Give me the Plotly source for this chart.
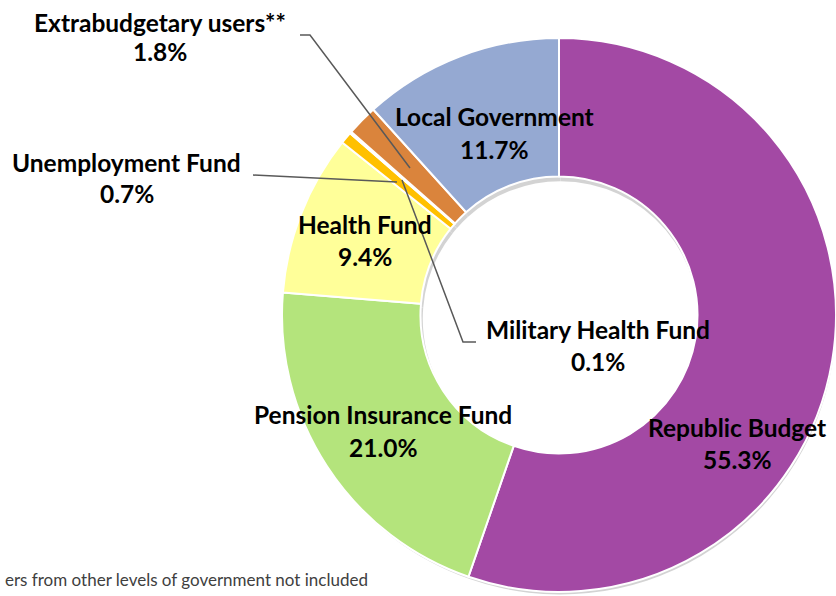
import plotly.graph_objects as go

W, H = 836, 596

# ---- data ----
categories = ["Republic Budget", "Pension Insurance Fund", "Health Fund",
              "Unemployment Fund", "Military Health Fund",
              "Extrabudgetary users**", "Local Government"]
shares = [55.3, 21.0, 9.4, 0.7, 0.1, 1.8, 11.7]
footnote = "ers from other levels of government not included"

# ---- styles ----
colors = ["#A349A4", "#B4E47C", "#FFFF99", "#FFC000", "#C0504D", "#DA843C", "#95A9D2"]
# label placement in pixels (center x, name line y, value line y)
label_pos = {
    "Republic Budget": (737, 427, 459),
    "Pension Insurance Fund": (383, 414, 447),
    "Health Fund": (365, 224, 256),
    "Unemployment Fund": (127, 162, 193),
    "Military Health Fund": (598, 329, 361),
    "Extrabudgetary users**": (160, 22, 52),
    "Local Government": (494, 117, 149),
}
leaders = [
    [(300, 35), (310, 35), (410, 168)],
    [(253, 175), (397, 182)],
    [(476, 342), (463, 342), (402, 180)],
]


def px(x):
    return x / W


def py(y):
    return 1 - y / H


pie_left, pie_top, pie_size = 282, 38, 554
shadow_dx, shadow_dy = 3, 4

fig = go.Figure()
# soft drop shadow behind the ring
fig.add_trace(go.Pie(
    values=shares,
    sort=False,
    direction="clockwise",
    hole=0.5,
    marker=dict(colors=["#B0B0B0"] * len(shares), line=dict(width=0)),
    opacity=0.55,
    textinfo="none",
    hoverinfo="skip",
    showlegend=False,
    domain=dict(x=[px(pie_left + shadow_dx), min(1.0, px(pie_left + pie_size + shadow_dx))],
                y=[max(0.0, py(pie_top + pie_size + shadow_dy)), py(pie_top + shadow_dy)]),
))
fig.add_trace(go.Pie(
    labels=categories,
    values=shares,
    sort=False,
    direction="clockwise",
    rotation=0,
    hole=0.5,
    marker=dict(colors=colors, line=dict(color="white", width=2)),
    textinfo="none",
    hoverinfo="label+percent",
    showlegend=False,
    domain=dict(x=[px(pie_left), min(1.0, px(pie_left + pie_size))],
                y=[py(pie_top + pie_size), py(pie_top)]),
))

font_family = "Lato, 'Open Sans', sans-serif"
annotations = []
for cat, val in zip(categories, shares):
    cx, y1, y2 = label_pos[cat]
    annotations.append(dict(x=px(cx), y=py(y1), xref="paper", yref="paper",
                            text=f"<b>{cat}</b>", showarrow=False,
                            xanchor="center", yanchor="middle",
                            font=dict(family=font_family, size=24.5, color="black")))
    annotations.append(dict(x=px(cx), y=py(y2), xref="paper", yref="paper",
                            text=f"<b>{val:.1f}%</b>", showarrow=False,
                            xanchor="center", yanchor="middle",
                            font=dict(family=font_family, size=24.5, color="black")))

annotations.append(dict(x=px(3), y=py(579), xref="paper", yref="paper",
                        text=footnote, showarrow=False, xanchor="left", yanchor="middle",
                        font=dict(family=font_family, size=17, color="#404040")))

shapes = []
for pts in leaders:
    path = "M " + " L ".join(f"{px(x)},{py(y)}" for x, y in pts)
    shapes.append(dict(type="path", path=path, xref="paper", yref="paper",
                       line=dict(color="#595959", width=1.5)))

fig.update_layout(
    width=W, height=H,
    margin=dict(l=0, r=0, t=0, b=0),
    paper_bgcolor="white",
    plot_bgcolor="white",
    annotations=annotations,
    shapes=shapes,
)

fig.write_html(
    "out.html",
    config={"displayModeBar": False},
    post_script="document.body.style.margin='0';document.body.style.overflow='hidden';",
)
